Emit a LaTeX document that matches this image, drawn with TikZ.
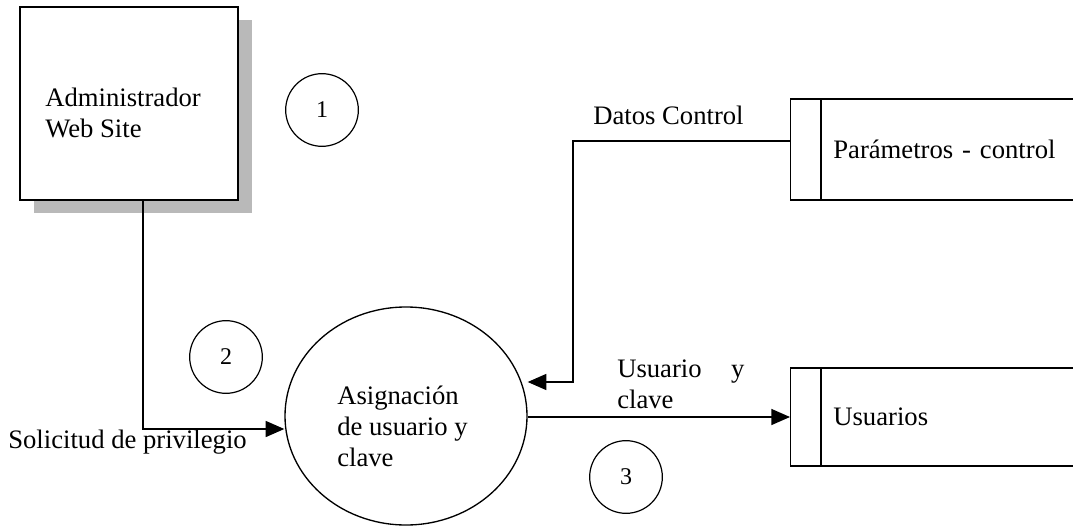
\documentclass[tikz,border=0pt]{standalone}
\usepackage{fontspec}
\setmainfont{Liberation Serif}
\usetikzlibrary{arrows.meta,positioning,calc,shapes.geometric,shadows}

\begin{document}
\begin{tikzpicture}[
    x=0.75pt, y=-0.75pt,
    ext/.style={draw, line width=1pt, fill=white, minimum width=163.5pt, minimum height=144.75pt,
        drop shadow={shadow xshift=10.5pt, shadow yshift=-10pt, fill=gray!55, opacity=1}},
    proc/.style={draw, ellipse, line width=1pt, minimum width=181.5pt, minimum height=163.5pt, inner sep=0pt},
    store/.style={draw, line width=1pt, anchor=west, minimum height=#1, text width=200pt, align=left, inner xsep=32pt, font=\fontsize{20}{24}\selectfont},
    num/.style={draw, circle, line width=0.9pt, minimum size=54.5pt, inner sep=0pt, font=\fontsize{18}{20}\selectfont},
    txt/.style={inner sep=0pt, align=left, font=\fontsize{20}{23}\selectfont},
    flow/.style={-{Triangle[length=14pt, width=12pt]}, line width=1.1pt},
]
    \useasboundingbox (0,0) rectangle (1073,527);

    % External entity, process and data stores
    \node[ext] (admin) at (129,103.5) {};
    \node[txt, anchor=north west] (admintxt) at (45,88) {Administrador\\Web Site};
    \node[proc] (asig) at (406,416) {};
    \node[txt, anchor=north west] (asigtxt) at (337,386) {Asignación\\de usuario y\\clave};
    \node[store=75.75pt] (param) at (790,149.5) {Parámetros - control};
    \node[store=73.5pt] (usu) at (790,417) {Usuarios};
    \draw[line width=1pt] ($(param.north west)+(31,0)$) -- ($(param.south west)+(31,0)$);
    \draw[line width=1pt] ($(usu.north west)+(31,0)$) -- ($(usu.south west)+(31,0)$);

    % Numbers
    \node[num] (n1) at (322,110) {1};
    \node[num] (n2) at (226,357) {2};
    \node[num] (n3) at (626,477) {3};

    % Flows
    \coordinate (solturn) at (143,429);
    \draw[flow] (admin.south -| solturn) -- (solturn) -- (asig.west |- solturn);
    \coordinate (dcturn) at (573,141);
    \coordinate (dcdown) at (573,382);
    \draw[flow] (param.west |- dcturn) -- (dcturn) -- (dcdown) -- (asig.east |- dcdown);
    \draw[flow] (asig.east |- usu.west) -- (usu.west);

    % Flow labels
    \node[txt, anchor=base west] (soltxt) at (8,448) {Solicitud de privilegio};
    \node[txt, anchor=base west] (dctxt) at (593,125) {Datos Control};
    \node[txt, anchor=north west] (uctxt) at (617,360) {Usuario\hspace{1.1em}y\\clave};
\end{tikzpicture}
\end{document}
